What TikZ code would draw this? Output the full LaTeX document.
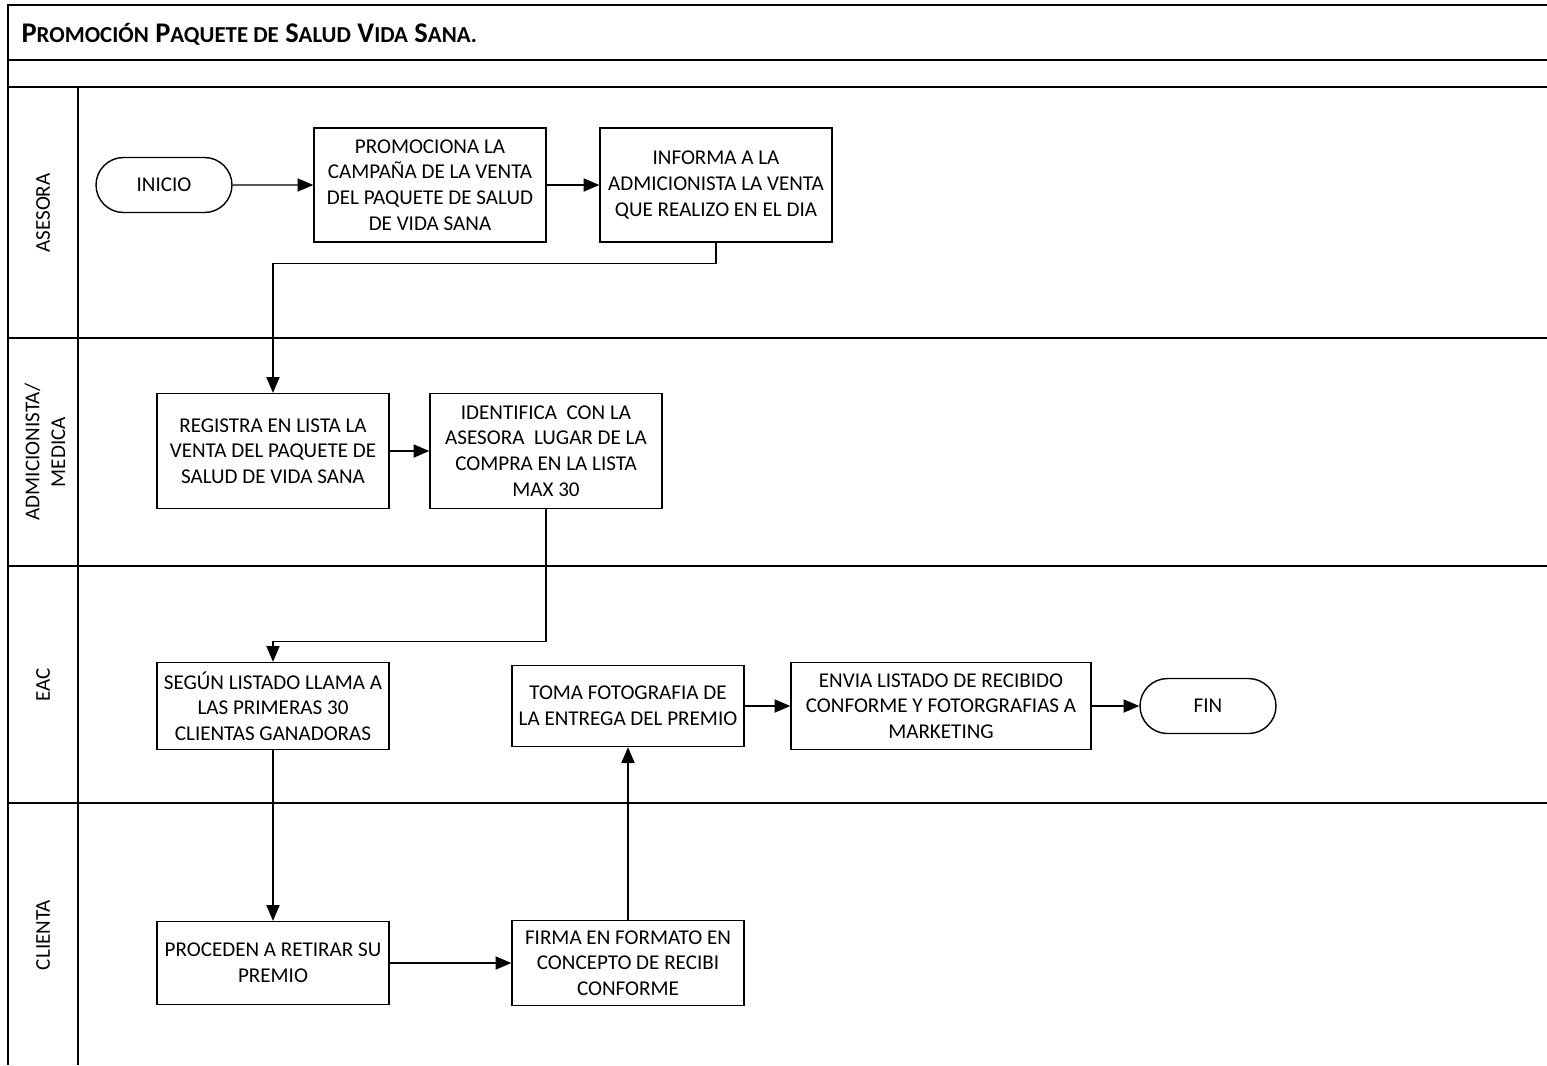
\documentclass[tikz,border=0pt]{standalone}
\usepackage{fontspec}
\setmainfont{Carlito}
\usetikzlibrary{shapes}
\usetikzlibrary{arrows.meta}
\newcommand\scap[2]{#1{\fontsize{13}{15}\selectfont #2}}

\begin{document}
\begin{tikzpicture}[x=0.02cm, y=-0.02cm, line width=0.8pt,
    every node/.style={font=\fontsize{12}{14.6}\selectfont, align=center},
    proc/.style={rectangle, draw, inner sep=0pt, minimum width=4.64cm, minimum height=2.28cm},
    term/.style={rounded rectangle, draw, inner sep=0pt, minimum width=2.72cm, minimum height=1.1cm},
    frame/.style={line width=1.2pt},
    flow/.style={-{Triangle[length=9pt, width=7.5pt]}},
    lane/.style={rotate=90}]

    \useasboundingbox (0,0) rectangle (1547,1065);

    % marco y carriles
    \draw[frame] (8,1065) -- (8,5) -- (1547,5);
    \foreach \y in {60,87,338,566,803}
        \draw[frame] (8,\y) -- (1547,\y);
    \draw[frame] (78,87) -- (78,1065);

    \node (titulo) [anchor=west, font=\fontsize{16.2}{18}\bfseries\selectfont] at (15,34)
        {\scap{P}{ROMOCIÓN} \scap{P}{AQUETE DE} \scap{S}{ALUD} \scap{V}{IDA} \scap{S}{ANA.}};

    \node (asesora) [lane] at (43,213) {ASESORA};
    \node (admicionista) [lane] at (45,452) {ADMICIONISTA/\\MEDICA};
    \node (eac) [lane] at (43,685) {EAC};
    \node (clienta) [lane] at (43,935) {CLIENTA};

    % actividades
    \node (inicio) [term] at (164,185) {INICIO};
    \node (promociona) [proc] at (430,185) {PROMOCIONA LA\\CAMPAÑA DE LA VENTA\\DEL PAQUETE DE SALUD\\DE VIDA SANA};
    \node (informa) [proc] at (716,185) {INFORMA A LA\\ADMICIONISTA LA VENTA\\QUE REALIZO EN EL DIA};

    \node (registra) [proc, minimum height=2.3cm] at (273,451) {REGISTRA EN LISTA LA\\VENTA DEL PAQUETE DE\\SALUD DE VIDA SANA};
    \node (identifica) [proc, minimum height=2.3cm] at (546,451) {IDENTIFICA\ \ CON LA\\ASESORA\ \ LUGAR DE LA\\COMPRA EN LA LISTA\\MAX 30};

    \node (segun) [proc, minimum height=1.74cm] at (273,706) {SEGÚN LISTADO LLAMA A\\LAS PRIMERAS 30\\CLIENTAS GANADORAS};
    \node (toma) [proc, minimum height=1.62cm] at (628,706) {TOMA FOTOGRAFIA DE\\LA ENTREGA DEL PREMIO};
    \node (envia) [proc, minimum width=6cm, minimum height=1.74cm] at (941,706) {ENVIA LISTADO DE RECIBIDO\\CONFORME Y FOTORGRAFIAS A\\MARKETING};
    \node (fin) [term] at (1208,706) {FIN};

    \node (procede) [proc, minimum height=1.66cm] at (273,963) {PROCEDEN A RETIRAR SU\\PREMIO};
    \node (firma) [proc, minimum height=1.7cm] at (628,963) {FIRMA EN FORMATO EN\\CONCEPTO DE RECIBI\\CONFORME};

    % flujo
    \draw[flow] (inicio) -- (promociona);
    \draw[flow] (promociona) -- (informa);
    \draw[flow] (informa.south) -- ++(0,21) -| (registra.north);
    \draw[flow] (registra) -- (identifica);
    \draw[flow] (identifica.south) -- ++(0,132) -| (segun.north);
    \draw[flow] (segun) -- (procede);
    \draw[flow] (procede) -- (firma);
    \draw[flow] (firma) -- (toma);
    \draw[flow] (toma) -- (envia);
    \draw[flow] (envia) -- (fin);

\end{tikzpicture}
\end{document}
